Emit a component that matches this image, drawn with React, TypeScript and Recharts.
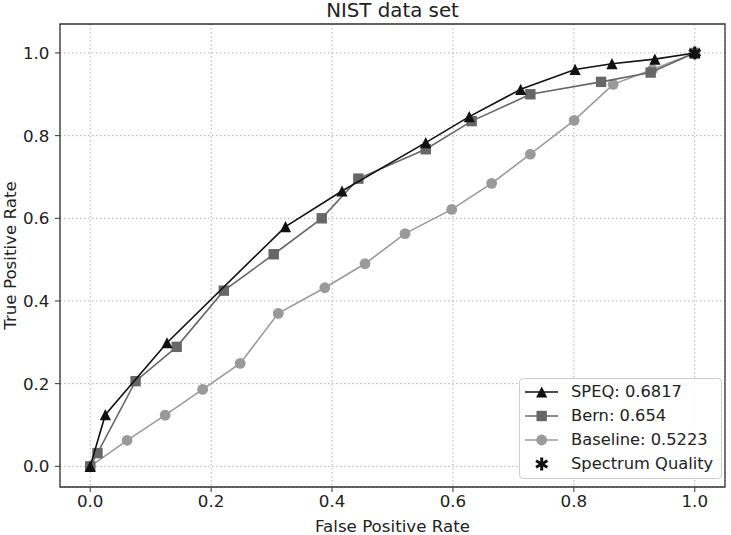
import React from 'react';
import {
  ScatterChart,
  Scatter,
  XAxis,
  YAxis,
  CartesianGrid,
  ReferenceArea,
  Legend,
} from 'recharts';

// ROC points
const speqFpr = [0, 0.025, 0.127, 0.323, 0.4165, 0.555, 0.627, 0.712, 0.802, 0.863, 0.934, 1.0];
const speqTpr = [0, 0.125, 0.299, 0.58, 0.666, 0.783, 0.846, 0.912, 0.96, 0.974, 0.985, 1.0];

const bernFpr = [0, 0.012, 0.075, 0.143, 0.221, 0.3035, 0.383, 0.4435, 0.555, 0.631, 0.728, 0.845, 0.927, 1.0];
const bernTpr = [0, 0.032, 0.206, 0.289, 0.425, 0.513, 0.6, 0.696, 0.767, 0.835, 0.9, 0.93, 0.9525, 1.0];

const baseFpr = [0, 0.061, 0.124, 0.186, 0.248, 0.311, 0.388, 0.4545, 0.5207, 0.598, 0.664, 0.728, 0.8005, 0.865, 0.93, 1.0];
const baseTpr = [0, 0.063, 0.124, 0.186, 0.249, 0.37, 0.432, 0.49, 0.563, 0.6215, 0.6845, 0.755, 0.837, 0.924, 0.96, 1.0];

const qualityFpr = [1.0];
const qualityTpr = [1.0];

const ticks = [0, 0.2, 0.4, 0.6, 0.8, 1.0];

const zip = (xs: number[], ys: number[]) => xs.map((x, i) => ({ x, y: ys[i] }));

const SPEQ_COLOR = '#111111';
const BERN_COLOR = '#676767';
const BASE_COLOR = '#9a9a9a';

type Marker = 'triangle' | 'square' | 'circle' | 'star';

function drawMarker(kind: Marker, cx: number, cy: number, color: string) {
  if (kind === 'triangle') {
    const h = 5.6;
    return <polygon points={`${cx},${cy - h} ${cx - h},${cy + h} ${cx + h},${cy + h}`} fill={color} />;
  }
  if (kind === 'square') {
    return <rect x={cx - 5.2} y={cy - 5.2} width={10.4} height={10.4} fill={color} />;
  }
  if (kind === 'circle') {
    return <circle cx={cx} cy={cy} r={5.4} fill={color} />;
  }
  // asterisk-like star
  const r = 6.5;
  const arms = [90, 30, 150].map((deg) => {
    const a = (deg * Math.PI) / 180;
    return (
      <line
        key={deg}
        x1={cx - r * Math.cos(a)}
        y1={cy - r * Math.sin(a)}
        x2={cx + r * Math.cos(a)}
        y2={cy + r * Math.sin(a)}
        stroke={color}
        strokeWidth={3}
      />
    );
  });
  return <g>{arms}</g>;
}

const markerShape = (kind: Marker, color: string) => (props: any) => {
  if (props.cx == null || props.cy == null) return <g />;
  return drawMarker(kind, props.cx, props.cy, color);
};

const legendItems: { name: string; color: string; marker: Marker; line: boolean }[] = [
  { name: 'SPEQ: 0.6817', color: SPEQ_COLOR, marker: 'triangle', line: true },
  { name: 'Bern: 0.654', color: BERN_COLOR, marker: 'square', line: true },
  { name: 'Baseline: 0.5223', color: BASE_COLOR, marker: 'circle', line: true },
  { name: 'Spectrum Quality', color: SPEQ_COLOR, marker: 'star', line: false },
];

function RocLegend() {
  return (
    <div
      style={{
        boxSizing: 'border-box',
        width: 203,
        height: 101,
        paddingTop: 1,
        border: '1px solid #cccccc',
        borderRadius: 4,
        background: 'rgba(255,255,255,0.85)',
      }}
    >
      {legendItems.map((item) => (
        <div key={item.name} style={{ display: 'flex', alignItems: 'center', height: 24 }}>
          <svg width={51} height={24} style={{ flex: 'none' }}>
            {item.line && <line x1={5} y1={12} x2={38} y2={12} stroke={item.color} strokeWidth={1.6} />}
            {drawMarker(item.marker, 21.7, 12, item.color)}
          </svg>
          <span style={{ fontSize: 16.3, lineHeight: '24px', color: '#222' }}>{item.name}</span>
        </div>
      ))}
    </div>
  );
}

const fmt = (v: number) => v.toFixed(1);

export default function App() {
  const tickStyle = { fill: '#222', fontSize: 16.7 };
  return (
    <div
      style={{
        position: 'absolute',
        left: 0,
        top: 0,
        width: 731,
        height: 535,
        background: '#fff',
        fontFamily: '"DejaVu Sans", sans-serif',
      }}
    >
      <div
        style={{
          position: 'absolute',
          left: 60,
          width: 665,
          top: 1,
          textAlign: 'center',
          fontSize: 19.8,
          lineHeight: '20px',
          color: '#222',
        }}
      >
        NIST data set
      </div>
      <ScatterChart width={731} height={535} margin={{ top: 24, right: 6, bottom: 0, left: 0 }}>
        <CartesianGrid stroke="#b0b0b0" strokeDasharray="1.5 2.5" strokeWidth={1} />
        <XAxis
          type="number"
          dataKey="x"
          domain={[-0.05, 1.05]}
          ticks={ticks}
          tickFormatter={fmt}
          height={48}
          axisLine={false}
          tickSize={5}
          tickMargin={3}
          tickLine={{ stroke: '#333' }}
          tick={tickStyle}
          label={{ value: 'False Positive Rate', position: 'insideBottom', offset: 3, fill: '#222', fontSize: 16.7 }}
        />
        <YAxis
          type="number"
          dataKey="y"
          domain={[-0.05, 1.07]}
          ticks={ticks}
          tickFormatter={fmt}
          width={60}
          axisLine={false}
          tickSize={5}
          tickMargin={5.5}
          tickLine={{ stroke: '#333' }}
          tick={tickStyle}
          label={{
            value: 'True Positive Rate',
            angle: -90,
            position: 'insideLeft',
            offset: 10.5,
            fill: '#222',
            fontSize: 16.7,
            style: { textAnchor: 'middle' },
          }}
        />
        <ReferenceArea x1={-0.05} x2={1.05} y1={-0.05} y2={1.07} fill="none" stroke="#333" strokeWidth={1.3} />
        <Scatter
          name="Baseline: 0.5223"
          data={zip(baseFpr, baseTpr)}
          line={{ stroke: BASE_COLOR, strokeWidth: 1.6 }}
          shape={markerShape('circle', BASE_COLOR)}
          isAnimationActive={false}
        />
        <Scatter
          name="Bern: 0.654"
          data={zip(bernFpr, bernTpr)}
          line={{ stroke: BERN_COLOR, strokeWidth: 1.6 }}
          shape={markerShape('square', BERN_COLOR)}
          isAnimationActive={false}
        />
        <Scatter
          name="SPEQ: 0.6817"
          data={zip(speqFpr, speqTpr)}
          line={{ stroke: SPEQ_COLOR, strokeWidth: 1.6 }}
          shape={markerShape('triangle', SPEQ_COLOR)}
          isAnimationActive={false}
        />
        <Scatter
          name="Spectrum Quality"
          data={zip(qualityFpr, qualityTpr)}
          shape={markerShape('star', SPEQ_COLOR)}
          isAnimationActive={false}
        />
        <Legend
          layout="horizontal"
          verticalAlign="middle"
          align="center"
          wrapperStyle={{ left: 519, top: 378, width: 203, height: 101 }}
          content={() => <RocLegend />}
        />
      </ScatterChart>
    </div>
  );
}
